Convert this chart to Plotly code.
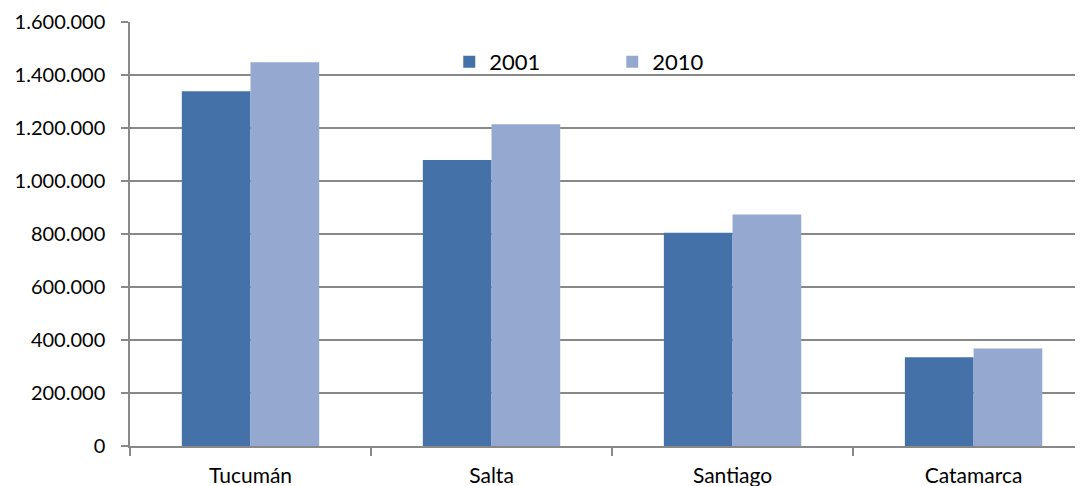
import plotly.graph_objects as go

categories = ["Tucumán", "Salta", "Santiago", "Catamarca"]
values_2001 = [1338523, 1079051, 804457, 334568]
values_2010 = [1448188, 1214441, 874006, 367828]
y_ticks = [0, 200000, 400000, 600000, 800000, 1000000, 1200000, 1400000, 1600000]

font_family = "Lato, 'Liberation Sans', sans-serif"
grid_color = "#888888"

fig = go.Figure()
fig.add_trace(go.Bar(name="2001", x=categories, y=values_2001, marker=dict(color="#4472A8", line=dict(width=0))))
fig.add_trace(go.Bar(name="2010", x=categories, y=values_2010, marker=dict(color="#95A9D0", line=dict(width=0))))

fig.update_layout(
    width=1075, height=478,
    margin=dict(l=122, r=0, t=14, b=40),
    paper_bgcolor="white", plot_bgcolor="white",
    barmode="group", bargap=0.43, bargroupgap=0,
    separators=",.",
    font=dict(family=font_family, size=20, color="#000000"),
    legend=dict(orientation="h", x=0.335, y=0.906, xanchor="left", yanchor="middle",
                font=dict(size=22), entrywidth=118, bgcolor="rgba(0,0,0,0)",
                itemsizing="constant"),
    xaxis=dict(type="category", range=[-0.5, 3.454], showgrid=False,
               showline=True, linecolor=grid_color, linewidth=1.5,
               ticks="outside", tickson="boundaries", ticklen=8, tickcolor=grid_color,
               tickwidth=1.5, tickfont=dict(size=21), ticklabelstandoff=10),
    yaxis=dict(range=[0, 1600000], tickvals=y_ticks, tickformat=",d",
               showgrid=True, gridcolor=grid_color, gridwidth=1.5,
               showline=True, linecolor=grid_color, linewidth=1.5,
               ticks="outside", ticklen=7, tickcolor=grid_color, tickwidth=1.5,
               tickfont=dict(size=20), ticklabelstandoff=12, zeroline=False),
)

fig.write_html("out.html")
